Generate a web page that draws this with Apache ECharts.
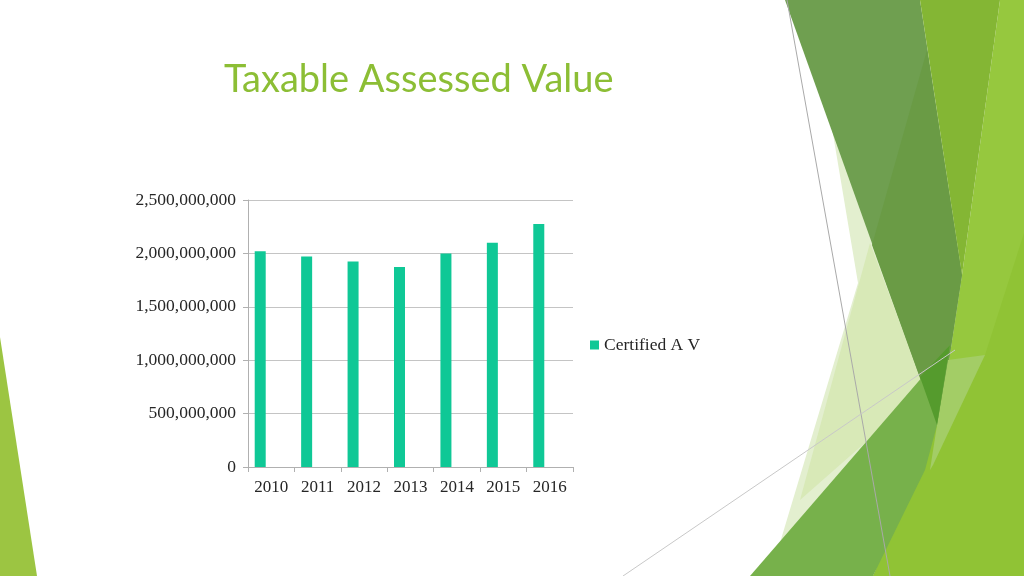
<!DOCTYPE html>
<html>
<head>
<meta charset="utf-8">
<script src="https://cdn.jsdelivr.net/npm/echarts@6/dist/echarts.min.js"></script>
<style>
  html, body { margin: 0; padding: 0; background: #ffffff; }
  #chart { width: 1024px; height: 576px; }
</style>
</head>
<body>
<div id="chart"></div>
<script>
// ---- data ----
var categories = ['2010', '2011', '2012', '2013', '2014', '2015', '2016'];
var certifiedAV = [2020000000, 1970000000, 1925000000, 1873000000, 1998000000, 2100000000, 2275000000];
var seriesName = 'Certified A V';
var titleText = 'Taxable Assessed Value';
var yTicks = { min: 0, max: 2500000000, interval: 500000000 };

function poly(points, fill, z) {
  return { type: 'polygon', silent: true, z: z || 1, shape: { points: points }, style: { fill: fill } };
}
function line(x1, y1, x2, y2, color, z) {
  return { type: 'line', silent: true, z: z || 5, shape: { x1: x1, y1: y1, x2: x2, y2: y2 }, style: { stroke: color, lineWidth: 1 } };
}

var deco = [
  // left edge triangle
  poly([[0, 337], [37, 576], [0, 576]], '#9cc542', 1),
  // pale shapes
  poly([[832, 128], [945, 440], [770, 576], [858, 283]], '#e3efcf', 1),
  poly([[870, 243], [925, 390], [800, 500], [847, 327]], '#d8e9b7', 2),
  // muted dark green tall triangle
  poly([[785, 0], [920, 0], [962, 275], [943, 400], [937, 425]], '#6f9f50', 3),
  poly([[927, 50], [962, 275], [943, 400], [937, 425], [872, 245]], '#6a9b45', 4),
  // olive triangle
  poly([[920, 0], [1000, 0], [962, 275]], '#84b634', 4),
  // right light green
  poly([[1000, 0], [1024, 0], [1024, 576], [873, 576], [930, 470], [943, 400], [962, 275]], '#96c83e', 3),
  poly([[1024, 233], [1024, 576], [873, 576], [933, 430], [985, 355]], '#90c335', 4),
  poly([[948, 360], [985, 355], [933, 465], [930, 470], [937, 425]], '#a3cd66', 5),
  // bottom green triangle
  poly([[950, 345], [937, 425], [925, 470], [873, 576], [750, 576]], '#77b14b', 5),
  poly([[920, 377], [950, 345], [937, 425]], '#559b2d', 6),
  // thin lines
  line(787, 0, 890, 576, '#a9a9a9', 7),
  line(623, 576, 955, 350, '#c8c8c8', 7)
];

var chart = echarts.init(document.getElementById('chart'), null, { renderer: 'canvas' });
var option = {
  backgroundColor: '#ffffff',
  animation: false,
  title: {
    text: titleText,
    left: 219,
    top: 56,
    textStyle: { fontFamily: 'Lato', fontSize: 38, fontWeight: 'normal', color: '#8cbe35' }
  },
  legend: {
    data: [seriesName],
    left: 585,
    top: 331,
    itemWidth: 9,
    itemHeight: 9,
    icon: 'rect',
    textStyle: { fontFamily: 'Liberation Serif', fontSize: 17.5, color: '#262626' }
  },
  grid: { left: 248, right: 451, top: 200, bottom: 109, containLabel: false },
  xAxis: {
    type: 'category',
    data: categories,
    boundaryGap: true,
    axisLine: { lineStyle: { color: '#b0b0b0', width: 1 } },
    axisTick: { show: true, inside: false, length: 5, alignWithLabel: false, lineStyle: { color: '#b0b0b0' } },
    axisLabel: { margin: 12, fontFamily: 'Liberation Serif', fontSize: 17, color: '#262626' },
    splitLine: { show: false }
  },
  yAxis: {
    type: 'value',
    min: yTicks.min,
    max: yTicks.max,
    interval: yTicks.interval,
    axisLine: { show: true, lineStyle: { color: '#b0b0b0', width: 1 } },
    axisTick: { show: true, length: 5, lineStyle: { color: '#b0b0b0' } },
    axisLabel: {
      margin: 12,
      fontFamily: 'Liberation Serif',
      fontSize: 17.5,
      color: '#262626',
      formatter: function (v) { return Number(v).toLocaleString('en-US'); }
    },
    splitLine: { show: true, lineStyle: { color: '#c4c4c4', width: 1 } }
  },
  series: [
    { name: seriesName, type: 'bar', data: certifiedAV, barWidth: 11, barGap: '0%', itemStyle: { color: '#0fc896' } },
    { name: 'pad1', type: 'bar', data: [], barWidth: 11, barGap: '0%' },
    { name: 'pad2', type: 'bar', data: [], barWidth: 11, barGap: '0%' }
  ],
  graphic: deco
};
chart.setOption(option);
</script>
</body>
</html>
